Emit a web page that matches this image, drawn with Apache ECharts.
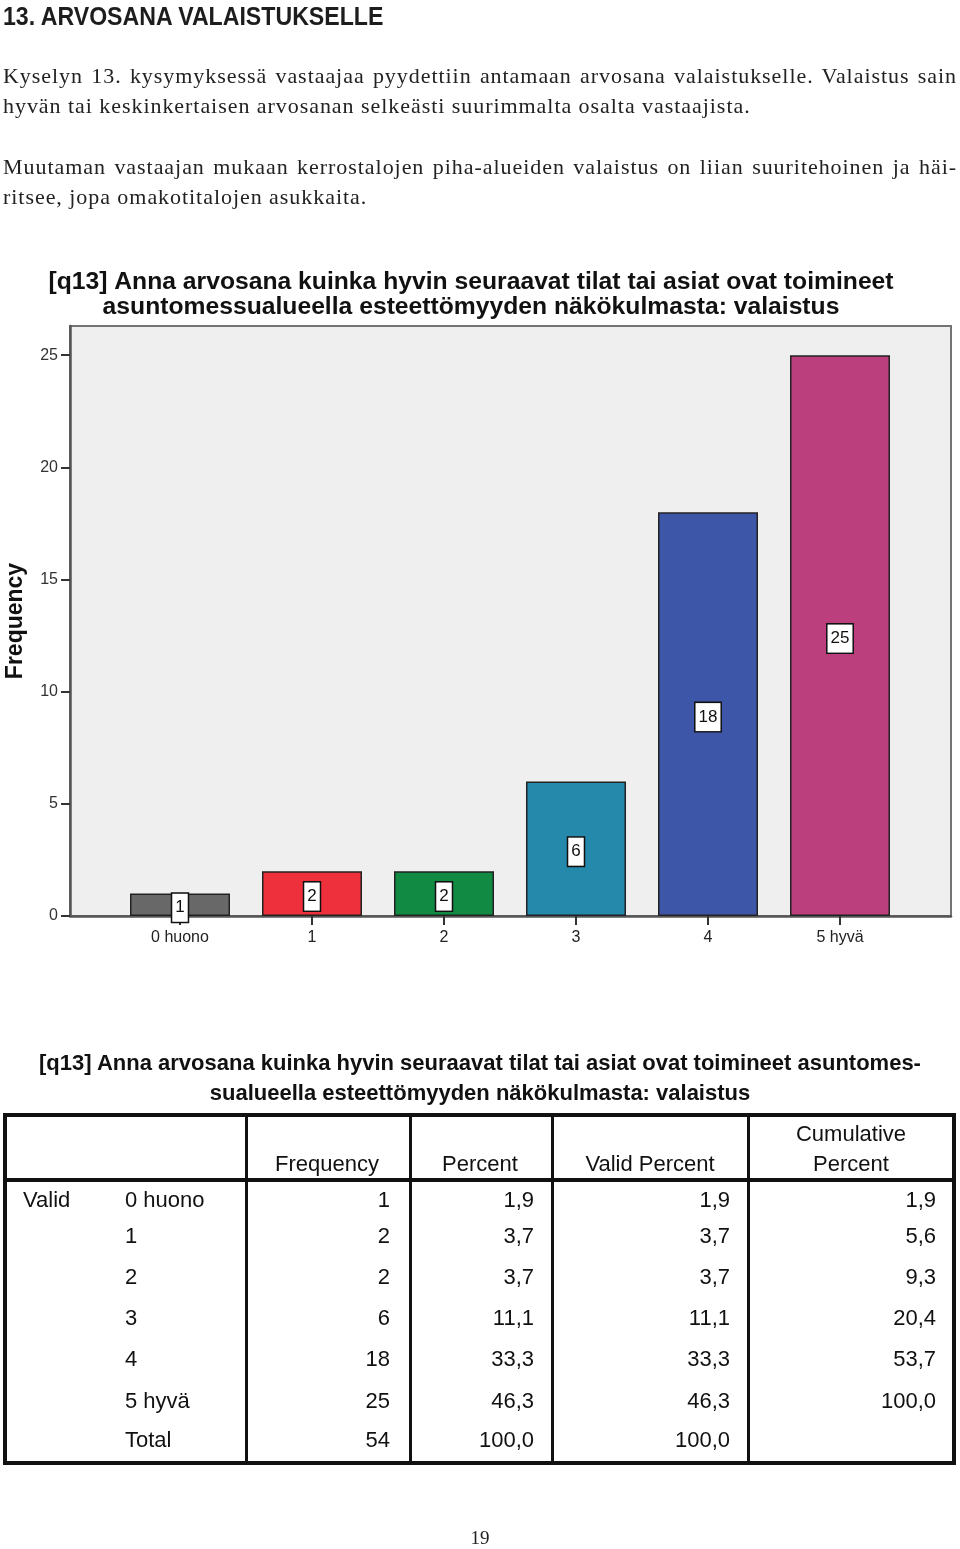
<!DOCTYPE html>
<html>
<head>
<meta charset="utf-8">
<script src="https://cdn.jsdelivr.net/npm/echarts@6/dist/echarts.min.js"></script>
<style>
  html, body { margin:0; padding:0; background:#fff; }
  body { width:960px; height:1549px; position:relative; overflow:hidden; }
  #chart { position:absolute; left:0; top:0; width:960px; height:1549px; }
  .ov { position:absolute; white-space:nowrap; color:#1a1a1a; }
  .h1 { font-family:"Liberation Sans",Arial,sans-serif; font-weight:bold; font-size:25.5px; line-height:30px; left:3px; top:1px; color:#1d1d1d; transform-origin:0 50%; }
  .p { font-family:"Liberation Serif","DejaVu Serif",serif; font-size:22px; letter-spacing:0.95px; line-height:30px; left:3px; width:954px; color:#222; }
  .just { text-align:justify; text-align-last:justify; }
  .tt { font-family:"Liberation Sans",Arial,sans-serif; font-weight:bold; font-size:22px; line-height:30px; left:0; width:960px; text-align:center; color:#111; }
  .tc { font-family:"Liberation Sans",Arial,sans-serif; font-size:22px; line-height:24px; color:#111; }
  .ln { position:absolute; background:#111; }
  .pg { font-family:"Liberation Serif","DejaVu Serif",serif; font-size:19px; left:0; width:960px; text-align:center; top:1526px; line-height:24px; color:#222; }
</style>
</head>
<body>
<div id="chart"></div>
<div class="ov h1" id="h1">13. ARVOSANA VALAISTUKSELLE</div>
<div class="ov p just" style="top:61px">Kyselyn 13. kysymyksessä vastaajaa pyydettiin antamaan arvosana valaistukselle. Valaistus sain</div>
<div class="ov p" style="top:91px">hyvän tai keskinkertaisen arvosanan selkeästi suurimmalta osalta vastaajista.</div>
<div class="ov p just" style="top:152px">Muutaman vastaajan mukaan kerrostalojen piha-alueiden valaistus on liian suuritehoinen ja häi-</div>
<div class="ov p" style="top:182px">ritsee, jopa omakotitalojen asukkaita.</div>
<div id="table"></div>
<div class="ov pg">19</div>
<script>
// ---- data ----
const categories = ['0 huono', '1', '2', '3', '4', '5 hyvä'];
const frequency = [1, 2, 2, 6, 18, 25];
const percent = ['1,9', '3,7', '3,7', '11,1', '33,3', '46,3'];
const validPercent = ['1,9', '3,7', '3,7', '11,1', '33,3', '46,3'];
const cumulativePercent = ['1,9', '5,6', '9,3', '20,4', '53,7', '100,0'];
const totalRow = ['Total', '54', '100,0', '100,0', ''];
const yTicks = [0, 5, 10, 15, 20, 25];
const barColors = ['#686868', '#ee2f3c', '#118a44', '#2489ab', '#3e56a8', '#bb3f7c'];
const chartTitle = '[q13] Anna arvosana kuinka hyvin seuraavat tilat tai asiat ovat toimineet\nasuntomessualueella esteettömyyden näkökulmasta: valaistus';
const tableTitle = ['[q13] Anna arvosana kuinka hyvin seuraavat tilat tai asiat ovat toimineet asuntomes-', 'sualueella esteettömyyden näkökulmasta: valaistus'];
const headers = ['Frequency', 'Percent', 'Valid Percent', 'Cumulative\nPercent'];

// heading condensed to its width in the reference
const h1 = document.getElementById('h1');
h1.style.transform = 'scaleX(' + (380 / h1.offsetWidth) + ')';

// ---- chart ----
const chart = echarts.init(document.getElementById('chart'), null, { renderer: 'canvas' });
const font = '"Liberation Sans", Arial, sans-serif';
const yMax = 26.3;
chart.setOption({
  animation: false,
  graphic: [{
    type: 'text', x: 471, y: 270,
    style: { text: chartTitle, textAlign: 'center', textVerticalAlign: 'top', font: 'bold 24.7px ' + font, lineHeight: 25, fill: '#111' }
  }],
  grid: [
    { left: 70, right: 9, top: 326, bottom: 633, show: true, backgroundColor: '#efefef', borderColor: '#747474', borderWidth: 2, outerBoundsMode: 'none', containLabel: false },
    { left: 114, right: 54, top: 326, bottom: 633, outerBoundsMode: 'none', containLabel: false }
  ],
  xAxis: [
    { type: 'value', gridIndex: 0, min: 0, max: 1, axisLine: { show: true, lineStyle: { color: '#555', width: 2.5 } }, axisTick: { show: false }, axisLabel: { show: false }, splitLine: { show: false } },
    { type: 'category', gridIndex: 1, data: categories, boundaryGap: true,
      axisLine: { show: false },
      axisTick: { show: true, alignWithLabel: true, length: 9, lineStyle: { color: '#333', width: 2 } },
      axisLabel: { margin: 14, fontFamily: font, fontSize: 16, color: '#222' } }
  ],
  yAxis: [
    { type: 'value', gridIndex: 0, min: 0, max: yMax, interval: 5,
      name: 'Frequency', nameLocation: 'middle', nameGap: 43,
      nameTextStyle: { fontFamily: font, fontWeight: 'bold', fontSize: 23, color: '#111' },
      axisLine: { show: true, lineStyle: { color: '#555', width: 2.5 } },
      axisTick: { show: true, length: 9, lineStyle: { color: '#333', width: 2 }, customValues: yTicks },
      axisLabel: { margin: 12, fontFamily: font, fontSize: 16, color: '#333', customValues: yTicks },
      splitLine: { show: false } },
    { type: 'value', gridIndex: 1, min: 0, max: yMax, show: false, splitLine: { show: false } }
  ],
  series: [{
    type: 'bar', xAxisIndex: 1, yAxisIndex: 1,
    data: frequency.map((v, i) => ({ value: v, itemStyle: { color: barColors[i] } })),
    barWidth: 100,
    itemStyle: { borderColor: '#222', borderWidth: 1.5 },
    label: {
      show: true, position: 'inside', formatter: '{c}', offset: [0, 3],
      fontFamily: font, fontSize: 17, lineHeight: 18, color: '#111',
      backgroundColor: '#fff', borderColor: '#111', borderWidth: 1.5, padding: [5, 3, 5, 3]
    }
  }]
});

// ---- table (HTML) ----
const T = document.getElementById('table');
function add(html) { T.insertAdjacentHTML('beforeend', html); }
function text(t, x, yc, align) {
  const top = yc - 12;
  if (align === 'right') add(`<div class="ov tc" style="top:${top}px;right:${960 - x}px">${t}</div>`);
  else if (align === 'center') add(`<div class="ov tc" style="top:${top}px;left:${x - 100}px;width:200px;text-align:center">${t}</div>`);
  else add(`<div class="ov tc" style="top:${top}px;left:${x}px">${t}</div>`);
}
add(`<div class="ov tt" style="top:1048px">${tableTitle[0]}</div>`);
add(`<div class="ov tt" style="top:1078px">${tableTitle[1]}</div>`);
// frame
const tL = 3, tR = 956, tT = 1113, tB = 1465;
add(`<div class="ln" style="left:${tL}px;top:${tT}px;width:${tR - tL}px;height:4px"></div>`);
add(`<div class="ln" style="left:${tL}px;top:${tB - 4}px;width:${tR - tL}px;height:4px"></div>`);
add(`<div class="ln" style="left:${tL}px;top:${tT}px;width:4px;height:${tB - tT}px"></div>`);
add(`<div class="ln" style="left:${tR - 4}px;top:${tT}px;width:4px;height:${tB - tT}px"></div>`);
add(`<div class="ln" style="left:${tL}px;top:1178px;width:${tR - tL}px;height:4px"></div>`);
[245, 409, 551, 747].forEach(x => add(`<div class="ln" style="left:${x}px;top:${tT}px;width:3px;height:${tB - tT}px"></div>`));
// headers
const headX = [327, 480, 650, 851];
headers.forEach((h, i) => {
  const parts = h.split('\n');
  if (parts.length === 2) { text(parts[0], headX[i], 1134, 'center'); text(parts[1], headX[i], 1164, 'center'); }
  else text(h, headX[i], 1164, 'center');
});
// rows
const rowY = [1200, 1236, 1277, 1318, 1359, 1401];
const colR = [390, 534, 730, 936];
text('Valid', 23, rowY[0], 'left');
categories.forEach((c, i) => {
  text(c, 125, rowY[i], 'left');
  text(String(frequency[i]), colR[0], rowY[i], 'right');
  text(percent[i], colR[1], rowY[i], 'right');
  text(validPercent[i], colR[2], rowY[i], 'right');
  text(cumulativePercent[i], colR[3], rowY[i], 'right');
});
text(totalRow[0], 125, 1440, 'left');
for (let k = 1; k < 5; k++) if (totalRow[k]) text(totalRow[k], colR[k - 1], 1440, 'right');
</script>
</body>
</html>
